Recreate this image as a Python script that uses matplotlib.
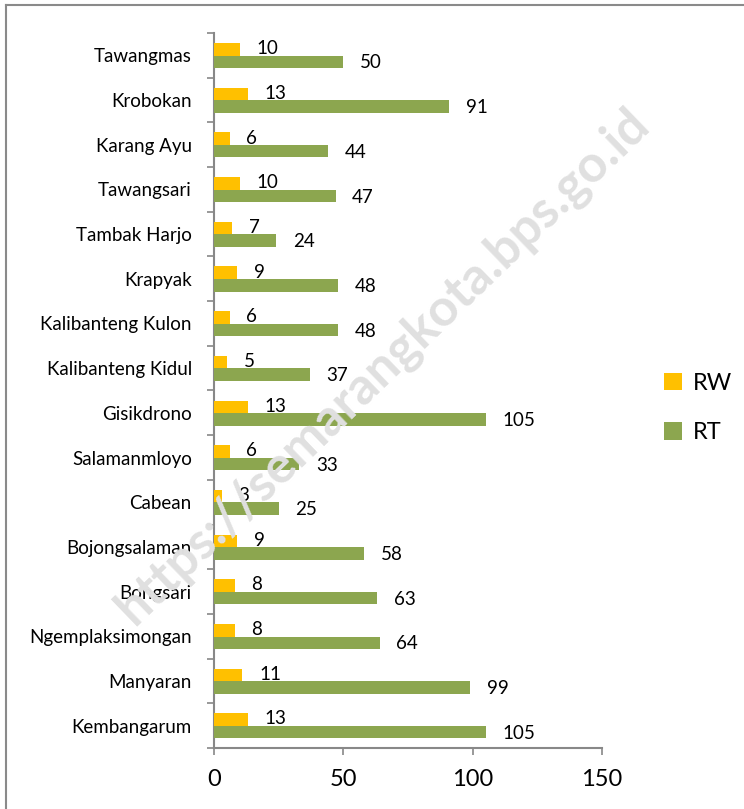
import matplotlib
matplotlib.use("Agg")
import matplotlib.pyplot as plt
from matplotlib.lines import Line2D
from matplotlib.patches import Patch
import numpy as np

categories = ["Tawangmas", "Krobokan", "Karang Ayu", "Tawangsari", "Tambak Harjo",
              "Krapyak", "Kalibanteng Kulon", "Kalibanteng Kidul", "Gisikdrono",
              "Salamanmloyo", "Cabean", "Bojongsalaman", "Bongsari",
              "Ngemplaksimongan", "Manyaran", "Kembangarum"]
rw = [10, 13, 6, 10, 7, 9, 6, 5, 13, 6, 3, 9, 8, 8, 11, 13]
rt = [50, 91, 44, 47, 24, 48, 48, 37, 105, 33, 25, 58, 63, 64, 99, 105]
xticks = [0, 50, 100, 150]

FONT = ["Lato", "DejaVu Sans"]
plt.rcParams["font.family"] = FONT

C_RW = "#FFC000"
C_RT = "#8CA64F"
GRAY = "#888888"

fig = plt.figure(figsize=(7.44, 8.09), dpi=100)
ax = fig.add_axes([214/744, 1-748/809, (602-214)/744, (748-33)/809])

n = len(categories)
y = np.arange(n)[::-1].astype(float)
h = 0.28
ax.barh(y + 0.135, rw, height=h, color=C_RW, zorder=3)
ax.barh(y - 0.145, rt, height=h, color=C_RT, zorder=3)

for yi, v in zip(y, rw):
    ax.annotate(str(v), (v, yi + 0.15), xytext=(12, 0), textcoords="offset points",
                va="center", ha="left", fontsize=13.5, zorder=4)
for yi, v in zip(y, rt):
    ax.annotate(str(v), (v, yi - 0.17), xytext=(12, 0), textcoords="offset points",
                va="center", ha="left", fontsize=13.5, zorder=4)

ax.set_xlim(0, 150)
ax.set_ylim(-0.5, n - 0.5)
ax.set_xticks(xticks)
ax.set_xticklabels([str(t) for t in xticks], fontsize=17)
ax.set_yticks(y)
ax.set_yticklabels(categories, fontsize=13.5)
ax.set_yticks(np.arange(-0.5, n, 1.0), minor=True)
ax.tick_params(axis="y", which="major", length=0, pad=16)
ax.tick_params(axis="y", which="minor", length=5, width=1.2, color=GRAY, direction="out")
ax.tick_params(axis="x", which="major", length=5, width=1.2, color=GRAY, direction="out", pad=10)
for s in ["top", "right"]:
    ax.spines[s].set_visible(False)
for s in ["left", "bottom"]:
    ax.spines[s].set_color(GRAY)
    ax.spines[s].set_linewidth(1.5)

# watermark
fig.text(0.515, 0.548, "https://semarangkota.bps.go.id", rotation=44, fontsize=37,
         fontweight="bold", color="#e0e0e0", ha="center", va="center", zorder=0)

# legend
handles = [Patch(facecolor=C_RW, edgecolor="none", label="RW"),
           Patch(facecolor=C_RT, edgecolor="none", label="RT")]
fig.legend(handles=handles, loc="center left", bbox_to_anchor=(643/744, 1-408/809),
           frameon=False, fontsize=17, handlelength=0.75, handleheight=0.75,
           labelspacing=1.2, handletextpad=0.45)

# figure border (left and top)
fig.add_artist(Line2D([6/744, 6/744], [0, 1-5/809], transform=fig.transFigure,
                      color="#8a8a8a", lw=1.5))
fig.add_artist(Line2D([6/744, 1], [1-5/809, 1-5/809], transform=fig.transFigure,
                      color="#8a8a8a", lw=1.5))

fig.savefig("out.png", dpi=100)
